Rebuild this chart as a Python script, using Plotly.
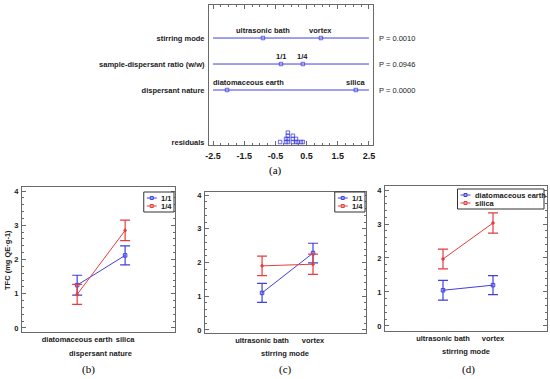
import plotly.graph_objects as go
from collections import Counter

W, H = 550, 379
FONT = "Arial, Liberation Sans, sans-serif"
SERIF = "Times New Roman, Liberation Serif, serif"
BLUE = "#4040dc"
RED = "#e63c3c"
AXC = "#6a6a6a"
TXT = "#1a1a1a"

# ---------------- data: panel (a) ----------------
factors = ["stirring mode", "sample-dispersant ratio (w/w)", "dispersant nature"]
factor_levels = [["ultrasonic bath", "vortex"], ["1/1", "1/4"], ["diatomaceous earth", "silica"]]
level_effects = [[-0.90, 0.96], [-0.32, 0.38], [-2.05, 2.08]]
p_values = ["P = 0.0010", "P = 0.0946", "P = 0.0000"]
residuals = [-0.35, -0.16, -0.16, -0.10, -0.10, -0.10, -0.10,
             0.06, 0.06, 0.06, 0.16, 0.16, 0.22, 0.32, 0.38]
a_tick_vals = [-2.5, -1.5, -0.5, 0.5, 1.5, 2.5]
a_tick_text = ["-2.5", "-1.5", "-0.5", "0.5", "1.5", "2.5"]

# ---------------- data: panel (b) ----------------
disp_levels = ["diatomaceous earth", "silica"]
ratio_names = ["1/1", "1/4"]
b_mean_11 = [1.25, 2.12]
b_err_11 = [0.29, 0.28]
b_mean_14 = [0.98, 2.85]
b_err_14 = [0.29, 0.30]

# ---------------- data: panel (c) ----------------
stir_levels = ["ultrasonic bath", "vortex"]
c_mean_11 = [1.10, 2.28]
c_err_11 = [0.28, 0.29]
c_mean_14 = [1.90, 1.95]
c_err_14 = [0.29, 0.30]

# ---------------- data: panel (d) ----------------
disp_names = ["diatomaceous earth", "silica"]
d_mean_de = [1.05, 1.20]
d_err_de = [0.29, 0.28]
d_mean_si = [1.97, 3.03]
d_err_si = [0.29, 0.30]

y_ticks = [0, 1, 2, 3, 4]


def fx(p):
    return p / W


def fy(p):
    return 1 - p / H


fig = go.Figure()
shapes = []
annots = []
LBL = dict(family=FONT, size=7.5, color=TXT, weight="bold")
SQ = dict(symbol="square-open", size=3.5, color=BLUE, line=dict(width=0.8, color=BLUE))

# ---------------- panel (a) ----------------
AX_MIN, AX_MAX = -2.5, 2.5
n = len(factors)
row_y = [n + 1 - i for i in range(n)]  # 4,3,2
for i, f in enumerate(factors):
    y = row_y[i]
    fig.add_trace(go.Scatter(x=[AX_MIN, AX_MAX], y=[y, y], mode="lines",
                             line=dict(color=BLUE, width=1), xaxis="x", yaxis="y",
                             showlegend=False, hoverinfo="skip"))
    fig.add_trace(go.Scatter(x=level_effects[i], y=[y] * len(level_effects[i]), mode="markers",
                             marker=SQ, xaxis="x", yaxis="y", showlegend=False))
    for lv, ef in zip(factor_levels[i], level_effects[i]):
        if ef < AX_MIN + 0.7:
            annots.append(dict(x=AX_MIN, y=y, xref="x", yref="y", text=lv, showarrow=False,
                               xanchor="left", yanchor="bottom", yshift=1, xshift=-2,
                               font=LBL))
        else:
            annots.append(dict(x=ef, y=y, xref="x", yref="y", text=lv, showarrow=False,
                               xanchor="center", yanchor="bottom", yshift=1, font=LBL))
    annots.append(dict(x=fx(377), y=y, xref="paper", yref="y", text=p_values[i],
                       showarrow=False, xanchor="left", yanchor="middle",
                       font=dict(family=FONT, size=7.5, color=TXT)))

# residual dot plot (stack duplicates)
cnt = Counter()
rx, ry = [], []
for r in residuals:
    rx.append(r)
    ry.append(0 + 0.12 * cnt[r])
    cnt[r] += 1
fig.add_trace(go.Scatter(x=rx, y=ry, mode="markers", marker=SQ,
                         xaxis="x", yaxis="y", showlegend=False))


# ---------------- panels (b),(c),(d) ----------------
def add_panel(ax, ay, means, errs, colors, symbols, sizes, names):
    for m, e, c, s, sz, nm in zip(means, errs, colors, symbols, sizes, names):
        fig.add_trace(go.Scatter(x=list(range(len(m))), y=m, mode="lines+markers", name=nm,
                                 line=dict(color=c, width=1),
                                 marker=dict(symbol=s, size=sz, color=c, line=dict(width=1, color=c)),
                                 error_y=dict(type="data", array=e, visible=True, color=c,
                                              thickness=1.2, width=5),
                                 xaxis=ax, yaxis=ay, showlegend=False))


SYM = ["square-open", "circle"]
SZ = [3.5, 2.5]
add_panel("x2", "y2", [b_mean_11, b_mean_14], [b_err_11, b_err_14], [BLUE, RED], SYM, SZ, ratio_names)
add_panel("x3", "y3", [c_mean_11, c_mean_14], [c_err_11, c_err_14], [BLUE, RED], SYM, SZ, ratio_names)
add_panel("x4", "y4", [d_mean_de, d_mean_si], [d_err_de, d_err_si], [BLUE, RED], SYM, SZ, disp_names)


def draw_legend(right, top, names, colors):
    tw = max(len(s) for s in names) * 3.75
    left = right - (3 + 10 + 3 + tw + 3)
    bottom = top + 4 + 8 * len(names)
    shapes.append(dict(type="rect", xref="paper", yref="paper", x0=fx(left), x1=fx(right),
                       y0=fy(bottom), y1=fy(top), line=dict(color="#333", width=1),
                       fillcolor="white", layer="above"))
    for i, (nm, c) in enumerate(zip(names, colors)):
        yy = top + 6 + 8 * i
        shapes.append(dict(type="line", xref="paper", yref="paper", x0=fx(left + 3), x1=fx(left + 13),
                           y0=fy(yy), y1=fy(yy), line=dict(color=c, width=1), layer="above"))
        shapes.append(dict(type="rect", xref="paper", yref="paper", x0=fx(left + 6.5), x1=fx(left + 9.5),
                           y0=fy(yy + 1.5), y1=fy(yy - 1.5), line=dict(color=c, width=1),
                           layer="above"))
        annots.append(dict(x=fx(left + 15), y=fy(yy), xref="paper", yref="paper", text=nm,
                           showarrow=False, xanchor="left", yanchor="middle", font=LBL))


draw_legend(174, 192, ratio_names, [BLUE, RED])
draw_legend(365, 192, ratio_names, [BLUE, RED])
draw_legend(544, 189, disp_names, [BLUE, RED])


def note(xp, yp, text, font, angle=0):
    annots.append(dict(x=fx(xp), y=fy(yp), xref="paper", yref="paper", text=text,
                       textangle=angle, showarrow=False, xanchor="center", yanchor="middle",
                       font=font))


CAP = dict(family=SERIF, size=11, color="#000")
note(7, 260, "TFC (mg QE·g-1)", LBL, -90)
note(100, 353, "dispersant nature", LBL)
note(285, 353, "stirring mode", LBL)
note(466, 351, "stirring mode", LBL)
note(275, 170, "(a)", CAP)
note(88, 369, "(b)", CAP)
note(285, 369, "(c)", CAP)
note(468, 369, "(d)", CAP)

tickfont = LBL


def xcat(dom, rng, labels, anchor):
    return dict(domain=[fx(dom[0]), fx(dom[1])], range=rng, tickvals=list(range(len(labels))),
                ticktext=labels, showline=True, linecolor=AXC, linewidth=1, mirror=True,
                ticks="", showgrid=False, zeroline=False, tickfont=tickfont,
                ticklabelstandoff=0, automargin=False, anchor=anchor)


def ylin(dom, rng, anchor):
    return dict(domain=[fy(dom[1]), fy(dom[0])], range=rng, tickvals=y_ticks,
                showline=True, linecolor=AXC, linewidth=1, mirror="allticks",
                ticks="inside", ticklen=4, tickcolor=AXC, showgrid=False, zeroline=False,
                minor=dict(ticks="inside", ticklen=2, dtick=0.2, tickcolor=AXC),
                tickfont=tickfont, ticklabelstandoff=1, anchor=anchor, automargin=False)


fig.update_layout(
    template="none",
    width=W, height=H, margin=dict(l=0, r=0, t=0, b=0, pad=0), autosize=False,
    paper_bgcolor="white", plot_bgcolor="white", showlegend=False,
    xaxis=dict(domain=[fx(209), fx(373)], range=[-2.63, 2.63], tickvals=a_tick_vals,
               ticktext=a_tick_text, showline=True, linecolor=AXC, linewidth=1, mirror="allticks",
               ticks="inside", ticklen=4, tickcolor=AXC, showgrid=False, zeroline=False,
               minor=dict(ticks="inside", ticklen=2, dtick=0.25, tickcolor=AXC),
               tickfont=dict(family=FONT, size=9, color=TXT, weight="bold"),
               ticklabelstandoff=2, anchor="y", automargin=False),
    yaxis=dict(domain=[fy(145), fy(5)], range=[-0.115, 5.27], tickvals=[4, 3, 2, 0],
               ticktext=factors + ["residuals"], showline=True, linecolor=AXC, linewidth=1,
               mirror=True, ticks="", showgrid=False, zeroline=False,
               tickfont=LBL, ticklabelstandoff=2, anchor="x", automargin=False),
    xaxis2=xcat((22, 175), [-1.15, 2.04], disp_levels, "y2"),
    yaxis2=ylin((187, 332), [-0.12, 4.12], "x2"),
    xaxis3=xcat((205, 366), [-1.12, 2.04], stir_levels, "y3"),
    yaxis3=ylin((192, 333), [-0.09, 4.09], "x3"),
    xaxis4=xcat((385, 547), [-1.16, 2.08], stir_levels, "y4"),
    yaxis4=ylin((186, 331), [-0.15, 4.12], "x4"),
    shapes=shapes, annotations=annots,
)

fig.write_html("out.html", config={"displayModeBar": False},
               post_script="document.body.style.margin='0';document.body.style.overflow='hidden';")
